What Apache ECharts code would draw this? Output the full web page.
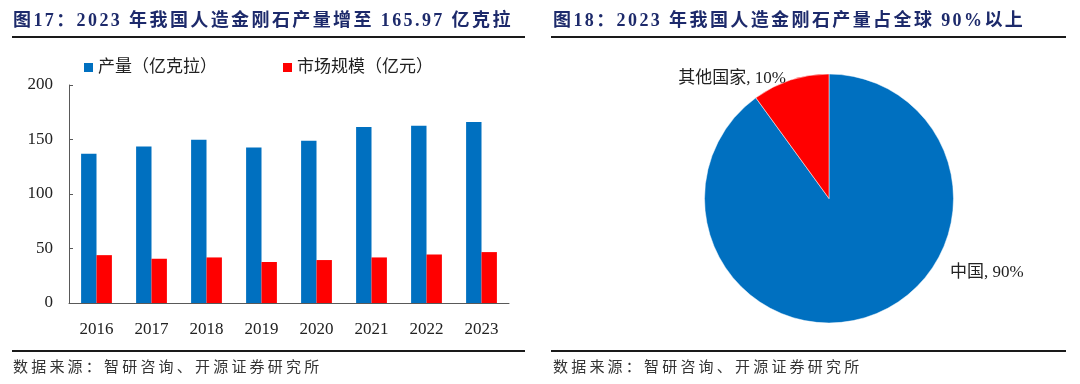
<!DOCTYPE html>
<html>
<head>
<meta charset="utf-8">
<script src="https://cdn.jsdelivr.net/npm/echarts@6/dist/echarts.min.js"></script>
<style>
  html, body { margin: 0; padding: 0; background: #fff; }
  #wrap { position: relative; width: 1080px; height: 384px; overflow: hidden; }
  #chart { position: absolute; left: 0; top: 0; width: 1080px; height: 384px; }
  .title { position: absolute; top: 8px; font-family: "Liberation Serif", "Noto Sans CJK SC", serif; font-weight: bold; font-size: 18px; color: #1d2a6b; white-space: nowrap; letter-spacing: 2.4px; line-height: 24px; }
  .hline { position: absolute; height: 2px; background: #1a1a1a; }
  .foot { position: absolute; top: 357px; font-family: "Liberation Serif", "Noto Sans CJK SC", serif; font-size: 15px; color: #333; white-space: nowrap; letter-spacing: 3.2px; line-height: 20px; }
</style>
</head>
<body>
<div id="wrap">
  <div id="chart"></div>
  <div class="title" id="t1" style="left:13px;"></div>
  <div class="title" id="t2" style="left:553px;"></div>
  <div class="hline" style="left:12px; width:513px; top:36px;"></div>
  <div class="hline" style="left:551px; width:515px; top:36px;"></div>
  <div class="hline" style="left:12px; width:513px; top:350px;"></div>
  <div class="hline" style="left:551px; width:515px; top:350px;"></div>
  <div class="foot" id="f1" style="left:13px;"></div>
  <div class="foot" id="f2" style="left:553px;"></div>
</div>
<script>
// ---- data ----
const years = ['2016', '2017', '2018', '2019', '2020', '2021', '2022', '2023'];
const outputValues = [137, 143.6, 149.7, 142.7, 148.8, 161.5, 162.7, 165.97];
const marketValues = [43.9, 40.6, 41.8, 37.6, 39.4, 41.8, 44.5, 46.7];
const seriesNames = ['产量（亿克拉）', '市场规模（亿元）'];
const yTicks = [0, 50, 100, 150, 200];
const pieNames = ['中国', '其他国家'];
const pieValues = [90, 10];
const title1 = '图17：2023 年我国人造金刚石产量增至 165.97 亿克拉';
const title2 = '图18：2023 年我国人造金刚石产量占全球 90%以上';
const footer = '数据来源：智研咨询、开源证券研究所';

document.getElementById('t1').textContent = title1;
document.getElementById('t2').textContent = title2;
document.getElementById('f1').textContent = footer;
document.getElementById('f2').textContent = footer;

const BLUE = '#0070C0', RED = '#FF0000';
const serif = '"Liberation Serif", "Noto Sans CJK SC", serif';
const AXIS = '#595959';
const chart = echarts.init(document.getElementById('chart'), null, { renderer: 'canvas' });

chart.setOption({
  animation: false,
  backgroundColor: '#fff',
  legend: {
    left: 79, top: 54,
    icon: 'rect', itemWidth: 9, itemHeight: 9, itemGap: 66,
    textStyle: { fontFamily: serif, fontSize: 17, color: '#222' },
    data: seriesNames
  },
  grid: { left: 69, top: 85, width: 440, height: 218, containLabel: false },
  xAxis: {
    type: 'category', data: years,
    axisLine: { lineStyle: { color: AXIS, width: 1 } },
    axisTick: { inside: true, length: 4, lineStyle: { color: AXIS } },
    axisLabel: { fontFamily: serif, fontSize: 17, color: '#222', margin: 18 }
  },
  yAxis: {
    type: 'value', min: yTicks[0], max: yTicks[yTicks.length - 1], interval: 50,
    axisLine: { show: true, lineStyle: { color: AXIS, width: 1 } },
    axisTick: { show: true, inside: true, length: 4, lineStyle: { color: AXIS } },
    splitLine: { show: false },
    axisLabel: { fontFamily: serif, fontSize: 17, color: '#222', margin: 16 }
  },
  series: [
    { name: seriesNames[0], type: 'bar', data: outputValues, itemStyle: { color: BLUE }, barGap: '0%', barCategoryGap: '44%' },
    { name: seriesNames[1], type: 'bar', data: marketValues, itemStyle: { color: RED } },
    {
      type: 'pie', center: [829, 198.5], radius: 124.5, startAngle: 90, clockwise: true,
      data: pieNames.map((n, i) => ({ name: n, value: pieValues[i], itemStyle: { color: i === 0 ? BLUE : RED } })),
      itemStyle: { borderColor: '#fff', borderWidth: 0.5 },
      label: { show: true, formatter: '{b}, {c}%', fontFamily: serif, fontSize: 17, color: '#222' },
      labelLine: { show: false },
      labelLayout: function (p) {
        if (p.dataIndex === 0) return { x: 950, y: 273, align: 'left', verticalAlign: 'middle' };
        return { x: 786, y: 79, align: 'right', verticalAlign: 'middle' };
      },
      emphasis: { disabled: true }
    }
  ]
});
</script>
</body>
</html>
